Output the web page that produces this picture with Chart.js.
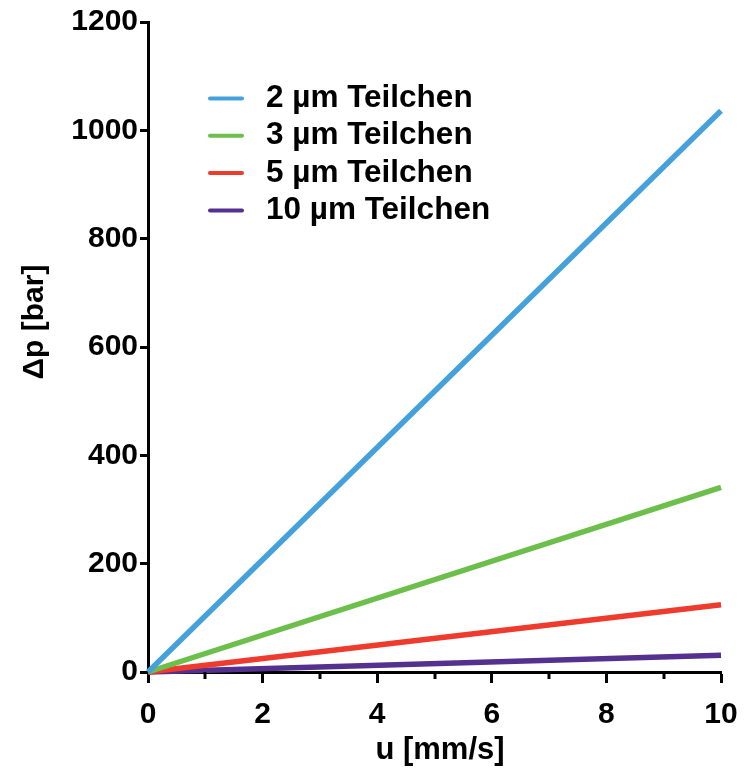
<!DOCTYPE html>
<html>
<head>
<meta charset="utf-8">
<script src="https://cdn.jsdelivr.net/npm/chart.js@4"></script>
<style>
html,body{margin:0;padding:0;background:#fff;}
canvas{display:block;}
</style>
</head>
<body>
<canvas id="c" width="744" height="769"></canvas>
<script>
// Data
const xValues = [0, 10];
const labels = ['2 µm Teilchen', '3 µm Teilchen', '5 µm Teilchen', '10 µm Teilchen'];
const series2um = [0, 1036];
const series3um = [0, 341];
const series5um = [0, 124];
const series10um = [0, 31];
const colors = ['#45a1dc', '#6cbf4a', '#ee3b2d', '#55318f'];
const yTicks = [0, 200, 400, 600, 800, 1000, 1200];
const xTitle = 'u [mm/s]';
const yTitle = 'Δp [bar]';

const FONT = "'Liberation Sans', Arial, sans-serif";
const allSeries = [series2um, series3um, series5um, series10um];

const datasets = allSeries.map((s, i) => ({
  label: labels[i],
  data: s.map((v, j) => ({x: xValues[j], y: v})),
  borderColor: colors[i],
  backgroundColor: colors[i],
  borderWidth: 5.5,
  pointRadius: 0,
  fill: false,
  tension: 0,
  clip: false,
  borderCapStyle: 'butt'
}));

const decor = {
  id: 'decor',
  afterDraw(chart) {
    const ctx = chart.ctx;
    const xs = chart.scales.x;
    // minor ticks on x axis
    ctx.save();
    ctx.strokeStyle = '#000';
    ctx.lineWidth = 3;
    for (let v = 1; v < 10; v += 2) {
      const px = Math.round(xs.getPixelForValue(v));
      ctx.beginPath();
      ctx.moveTo(px, xs.top);
      ctx.lineTo(px, xs.top + 7);
      ctx.stroke();
    }
    ctx.restore();
    // y title
    ctx.save();
    ctx.fillStyle = '#000';
    ctx.font = "bold 30px " + FONT;
    ctx.textAlign = 'center';
    ctx.textBaseline = 'alphabetic';
    ctx.translate(43, 322);
    ctx.rotate(-Math.PI / 2);
    ctx.fillText(yTitle, 0, 0);
    ctx.restore();
    // x title
    ctx.save();
    ctx.fillStyle = '#000';
    ctx.font = "bold 31px " + FONT;
    ctx.textAlign = 'center';
    ctx.textBaseline = 'alphabetic';
    ctx.fillText(xTitle, 440, 759);
    ctx.restore();
    // legend
    ctx.save();
    const x0 = 210, x1 = 242, tx = 266, y0 = 98.5, dy = 37.3;
    chart.data.datasets.forEach((ds, i) => {
      const y = y0 + i * dy;
      ctx.strokeStyle = ds.borderColor;
      ctx.lineWidth = 4;
      ctx.lineCap = 'round';
      ctx.beginPath();
      ctx.moveTo(x0, y);
      ctx.lineTo(x1, y);
      ctx.stroke();
      ctx.fillStyle = '#000';
      ctx.font = "bold 31.5px " + FONT;
      ctx.textAlign = 'left';
      ctx.textBaseline = 'middle';
      ctx.fillText(ds.label, tx, y);
    });
    ctx.restore();
  }
};

new Chart(document.getElementById('c'), {
  type: 'line',
  data: { datasets },
  options: {
    responsive: false,
    animation: false,
    devicePixelRatio: 1,
    layout: { padding: { top: 22, right: 23, left: 0, bottom: 0 } },
    plugins: { legend: { display: false }, tooltip: { enabled: false } },
    scales: {
      x: {
        type: 'linear',
        min: 0, max: 10,
        afterFit(s) { s.height = 97; s.paddingLeft = 0; s.paddingRight = 0; },
        border: { display: true, color: '#000', width: 3 },
        grid: {
          display: true, drawOnChartArea: false, drawTicks: true,
          tickLength: 11, tickWidth: 3,
          tickColor: (c) => (c.tick && c.tick.value % 2 === 0) ? '#000' : 'rgba(0,0,0,0)'
        },
        ticks: {
          stepSize: 1, autoSkip: false, maxRotation: 0, padding: 14,
          color: '#000',
          font: { family: FONT, weight: 'bold', size: 30 },
          callback: (v) => (v % 2 === 0 ? String(v) : '')
        },
        title: { display: false }
      },
      y: {
        type: 'linear',
        min: 0, max: 1200,
        afterFit(s) { s.width = 148; s.paddingTop = 0; s.paddingBottom = 0; },
        afterBuildTicks(s) { s.ticks = yTicks.map(v => ({ value: v })); },
        border: { display: true, color: '#000', width: 3 },
        grid: {
          display: true, drawOnChartArea: false, drawTicks: true,
          tickLength: 8, tickWidth: 3, tickColor: '#000'
        },
        ticks: {
          padding: 2, color: '#000',
          font: { family: FONT, weight: 'bold', size: 30 },
          callback: (v) => String(v)
        }
      }
    }
  },
  plugins: [decor]
});
</script>
</body>
</html>
